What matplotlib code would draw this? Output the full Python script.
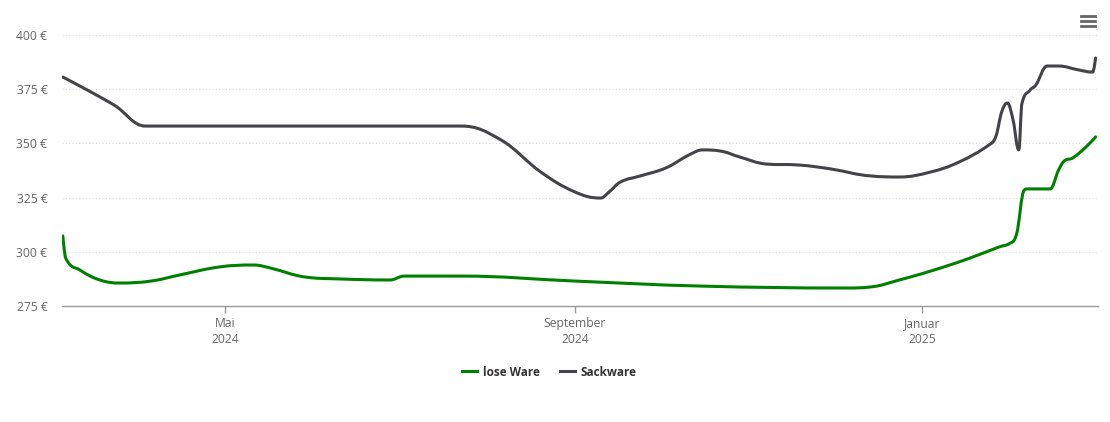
import numpy as np
import matplotlib
matplotlib.use("Agg")
import matplotlib.pyplot as plt
import matplotlib.dates as mdates
from matplotlib.path import Path
from matplotlib.patches import PathPatch
from matplotlib.lines import Line2D
import datetime

plt.rcParams['font.family'] = ['Open Sans', 'DejaVu Sans']

# Sackware
sack_dates = ["2024-03-05", "2024-03-23", "2024-04-03", "2024-07-23", "2024-08-06",
              "2024-08-20", "2024-09-01", "2024-09-10", "2024-09-13", "2024-09-17",
              "2024-09-24", "2024-10-03", "2024-10-11", "2024-10-16", "2024-10-22",
              "2024-10-29", "2024-11-07", "2024-11-19", "2024-11-30", "2024-12-14",
              "2024-12-24", "2025-01-04", "2025-01-14", "2025-01-25", "2025-01-27",
              "2025-01-29", "2025-01-31", "2025-02-02", "2025-02-04", "2025-02-05",
              "2025-02-08", "2025-02-10", "2025-02-14", "2025-02-18", "2025-02-25",
              "2025-03-02", "2025-03-03"]
sack_vals = [380.6, 367.7, 358.0, 358.0, 351.6,
             336.8, 327.6, 324.8, 327.6, 332.2,
             335.0, 338.7, 344.6, 347.0, 346.5,
             343.7, 340.5, 340.0, 338.2, 335.0,
             334.5, 336.8, 341.4, 349.7, 353.4,
             364.5, 368.6, 360.8, 347.0, 367.7,
             374.6, 376.9, 385.7, 385.7, 383.9,
             382.9, 389.4]

# lose Ware
lose_dates = ["2024-03-05", "2024-03-06", "2024-03-11", "2024-03-18", "2024-03-25",
              "2024-04-05", "2024-04-15", "2024-04-29", "2024-05-11", "2024-05-17",
              "2024-05-29", "2024-06-10", "2024-06-28", "2024-07-03", "2024-07-23",
              "2024-09-01", "2024-10-15", "2024-12-06", "2024-12-14", "2024-12-24",
              "2025-01-04", "2025-01-17", "2025-01-28", "2025-02-01", "2025-02-03",
              "2025-02-06", "2025-02-07", "2025-02-15", "2025-02-18", "2025-02-20",
              "2025-02-23", "2025-02-28", "2025-03-03"]
lose_vals = [307.3, 297.1, 291.6, 287.0, 285.6,
             286.5, 289.3, 293.0, 293.9, 292.5,
             288.4, 287.5, 287.0, 288.8, 288.8,
             286.5, 284.2, 283.3, 283.8, 287.0,
             291.1, 296.7, 302.2, 304.0, 307.3,
             328.5, 329.0, 329.0, 337.7, 341.9,
             343.3, 348.8, 353.0]

tick_dates = ["2024-05-01", "2024-09-01", "2025-01-01"]
tick_labels = ["Mai\n2024", "September\n2024", "Januar\n2025"]
y_ticks = [275, 300, 325, 350, 375, 400]


def to_num(ds):
    return mdates.date2num([datetime.datetime.strptime(d, "%Y-%m-%d") for d in ds])


def spline_path(xs, ys, smoothing=1.5):
    # highcharts-like spline control points
    denom = smoothing + 1
    n = len(xs)
    verts = [(xs[0], ys[0])]
    codes = [Path.MOVETO]
    lc = [None] * n
    rc = [None] * n
    for i in range(n):
        x, y = xs[i], ys[i]
        if i == 0 or i == n - 1:
            lc[i] = (x, y)
            rc[i] = (x, y)
            continue
        lx, ly = xs[i - 1], ys[i - 1]
        nx, ny = xs[i + 1], ys[i + 1]
        lcx = (smoothing * x + lx) / denom
        lcy = (smoothing * y + ly) / denom
        rcx = (smoothing * x + nx) / denom
        rcy = (smoothing * y + ny) / denom
        if rcx != lcx:
            corr = ((rcy - lcy) * (rcx - x)) / (rcx - lcx) + y - rcy
            lcy += corr
            rcy += corr
        if lcy > ly and lcy > y:
            lcy = max(ly, y)
            rcy = 2 * y - lcy
        elif lcy < ly and lcy < y:
            lcy = min(ly, y)
            rcy = 2 * y - lcy
        if rcy > ny and rcy > y:
            rcy = max(ny, y)
            lcy = 2 * y - rcy
        elif rcy < ny and rcy < y:
            rcy = min(ny, y)
            lcy = 2 * y - rcy
        lc[i] = (lcx, lcy)
        rc[i] = (rcx, rcy)
    for i in range(1, n):
        verts += [rc[i - 1], lc[i], (xs[i], ys[i])]
        codes += [Path.CURVE4] * 3
    return Path(verts, codes)


fig = plt.figure(figsize=(11.1, 4.22), dpi=100)
ax = fig.add_axes([62 / 1110, (422 - 306) / 422, 1036 / 1110, 271 / 422])

may1 = mdates.date2num(datetime.datetime(2024, 5, 1))
px_day = 2.845
ax.set_xlim(may1 - 163 / px_day, may1 + 873 / px_day)
ax.set_ylim(275, 400)

series = [(lose_dates, lose_vals, "#008000", "lose Ware"),
          (sack_dates, sack_vals, "#434348", "Sackware")]
handles = []
for ds, vs, col, lab in series:
    p = spline_path(list(to_num(ds)), vs)
    ax.add_patch(PathPatch(p, facecolor="none", edgecolor=col, lw=2.2,
                           capstyle="round", joinstyle="round", zorder=3))
    handles.append(Line2D([], [], color=col, lw=2.2, label=lab))

for yv in y_ticks[1:]:
    ax.axhline(yv, color="#dddddd", lw=0.8, ls=(0, (1, 2)), zorder=1)

for s in ["top", "right", "left"]:
    ax.spines[s].set_visible(False)
ax.spines["bottom"].set_color("#999999")
ax.spines["bottom"].set_linewidth(1)

ax.set_yticks(y_ticks)
ax.set_yticklabels(["%d €" % v for v in y_ticks])
ax.tick_params(axis="y", length=0, pad=10.5, labelsize=8.7, labelcolor="#666666")
ax.set_xticks(to_num(tick_dates))
ax.set_xticklabels(tick_labels, linespacing=1.3)
ax.tick_params(axis="x", length=5, width=1, color="#999999", pad=3,
               labelsize=8.7, labelcolor="#666666")

fig.legend(handles=handles, loc="center",
           bbox_to_anchor=(0.5 - 5.5 / 1110, 1 - 372 / 422),
           ncol=2, frameon=False, handlelength=1.25, handletextpad=0.5,
           columnspacing=1.7, prop={"weight": "bold", "size": 8.5},
           labelcolor="#333333")

# menu icon
for yy in [16, 21, 26]:
    fig.add_artist(Line2D([1081 / 1110, 1095 / 1110], [1 - yy / 422, 1 - yy / 422],
                          color="#666666", lw=2, transform=fig.transFigure))

fig.savefig("out.png", dpi=100)
